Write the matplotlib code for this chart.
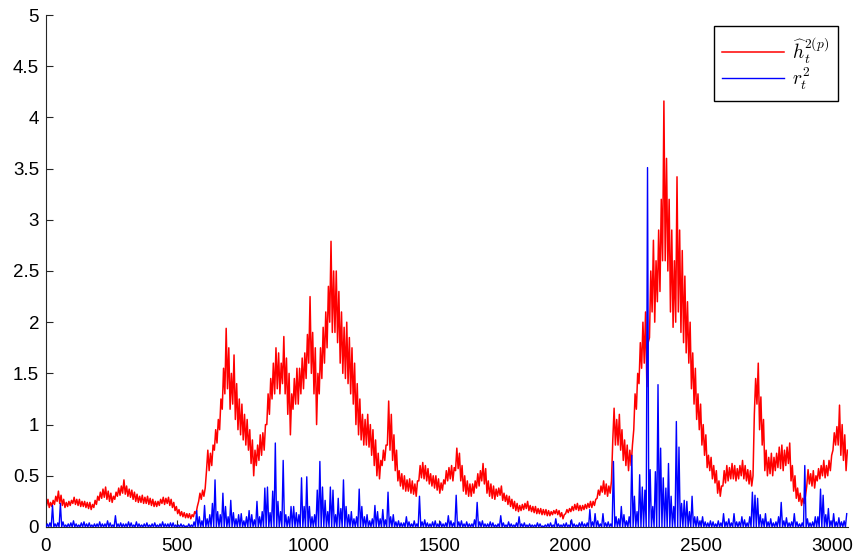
import numpy as np
import matplotlib
matplotlib.use("Agg")
import matplotlib.pyplot as plt

plt.rcParams['font.family'] = ['Liberation Sans', 'DejaVu Sans']
plt.rcParams['mathtext.fontset'] = 'cm'

# bin width (time steps) used when reading the picture
bin_width = 10

# red series: per-bin low / high envelope (10-step bins)
red_lo = [0.21, 0.19, 0.20, 0.22, 0.25, 0.23, 0.21, 0.19, 0.20, 0.21,
          0.23, 0.22, 0.21, 0.20, 0.20, 0.19, 0.18, 0.17, 0.19, 0.22,
          0.26, 0.28, 0.29, 0.27, 0.25, 0.24, 0.27, 0.30, 0.31, 0.33,
          0.32, 0.30, 0.29, 0.27, 0.25, 0.24, 0.24, 0.23, 0.23, 0.22,
          0.21, 0.20, 0.20, 0.21, 0.23, 0.22, 0.23, 0.21, 0.19, 0.16,
          0.13, 0.11, 0.10, 0.09, 0.09, 0.08, 0.10, 0.13, 0.25, 0.27,
          0.30, 0.55, 0.55, 0.60, 0.75, 0.82, 0.95, 1.15, 1.30, 1.35,
          1.15, 1.20, 1.05, 0.95, 0.90, 0.85, 0.80, 0.75, 0.62, 0.50,
          0.60, 0.65, 0.70, 0.75, 1.00, 1.10, 1.25, 1.30, 1.35, 1.30,
          1.40, 1.30, 1.10, 0.90, 1.15, 1.20, 1.20, 1.30, 1.35, 1.45,
          1.60, 1.50, 1.30, 1.00, 1.30, 1.45, 1.60, 1.75, 2.00, 1.90,
          1.90, 1.80, 1.60, 1.50, 1.45, 1.40, 1.30, 1.20, 1.00, 0.90,
          0.85, 0.80, 0.80, 0.78, 0.70, 0.60, 0.50, 0.47, 0.60, 0.65,
          0.80, 0.75, 0.65, 0.55, 0.45, 0.40, 0.37, 0.35, 0.35, 0.33,
          0.32, 0.30, 0.45, 0.48, 0.47, 0.45, 0.42, 0.40, 0.38, 0.36,
          0.33, 0.36, 0.42, 0.45, 0.47, 0.45, 0.55, 0.57, 0.45, 0.35,
          0.32, 0.30, 0.30, 0.33, 0.38, 0.40, 0.45, 0.42, 0.33, 0.30,
          0.28, 0.27, 0.30, 0.31, 0.26, 0.25, 0.22, 0.20, 0.18, 0.16,
          0.15, 0.16, 0.17, 0.18, 0.16, 0.15, 0.14, 0.13, 0.13, 0.12,
          0.12, 0.11, 0.11, 0.12, 0.13, 0.12, 0.10, 0.08, 0.13, 0.14,
          0.15, 0.16, 0.17, 0.16, 0.16, 0.17, 0.18, 0.19, 0.19, 0.21,
          0.28, 0.31, 0.34, 0.32, 0.30, 0.33, 0.85, 0.80, 0.80, 0.75,
          0.65, 0.60, 0.55, 0.60, 0.95, 1.15, 1.40, 1.55, 1.60, 1.37,
          1.85, 2.10, 2.00, 2.20, 2.30, 2.60, 2.60, 2.50, 2.10, 1.95,
          2.00, 2.10, 1.90, 1.80, 1.70, 1.60, 1.35, 1.20, 1.05, 0.95,
          0.80, 0.70, 0.58, 0.55, 0.47, 0.43, 0.33, 0.30, 0.40, 0.43,
          0.45, 0.47, 0.47, 0.45, 0.47, 0.50, 0.47, 0.45, 0.42, 0.40,
          1.10, 1.20, 0.95, 0.80, 0.55, 0.50, 0.52, 0.50, 0.55, 0.58,
          0.57, 0.55, 0.60, 0.62, 0.45, 0.35, 0.28, 0.25, 0.21, 0.23,
          0.40, 0.42, 0.40, 0.38, 0.45, 0.47, 0.50, 0.48, 0.50, 0.55,
          0.75, 0.80, 0.80, 0.70, 0.65, 0.55]
red_hi = [0.27, 0.24, 0.26, 0.30, 0.35, 0.31, 0.27, 0.24, 0.25, 0.26,
          0.29, 0.27, 0.27, 0.25, 0.25, 0.24, 0.24, 0.22, 0.26, 0.30,
          0.34, 0.37, 0.39, 0.35, 0.33, 0.30, 0.34, 0.38, 0.40, 0.46,
          0.40, 0.37, 0.36, 0.34, 0.32, 0.30, 0.31, 0.29, 0.30, 0.28,
          0.27, 0.25, 0.25, 0.27, 0.29, 0.28, 0.29, 0.27, 0.24, 0.20,
          0.17, 0.15, 0.14, 0.13, 0.13, 0.12, 0.15, 0.20, 0.33, 0.36,
          0.38, 0.75, 0.72, 0.80, 0.95, 1.05, 1.25, 1.55, 1.94, 1.75,
          1.50, 1.68, 1.40, 1.25, 1.20, 1.10, 1.05, 0.95, 0.85, 0.75,
          0.80, 0.90, 0.92, 1.00, 1.30, 1.45, 1.60, 1.75, 1.70, 1.60,
          1.86, 1.65, 1.50, 1.30, 1.45, 1.55, 1.55, 1.65, 1.70, 1.88,
          2.25, 1.90, 1.75, 1.50, 1.75, 1.95, 2.10, 2.35, 2.79, 2.50,
          2.50, 2.30, 2.10, 1.95, 2.00, 1.85, 1.75, 1.60, 1.40, 1.25,
          1.10, 1.05, 1.10, 1.00, 0.95, 0.85, 0.72, 0.65, 0.75, 0.80,
          1.23, 1.10, 0.90, 0.75, 0.55, 0.52, 0.50, 0.46, 0.47, 0.45,
          0.42, 0.45, 0.60, 0.63, 0.60, 0.57, 0.52, 0.50, 0.50, 0.47,
          0.43, 0.46, 0.55, 0.58, 0.60, 0.58, 0.77, 0.72, 0.60, 0.50,
          0.45, 0.42, 0.42, 0.45, 0.52, 0.55, 0.62, 0.57, 0.45, 0.42,
          0.40, 0.37, 0.38, 0.40, 0.33, 0.31, 0.30, 0.27, 0.25, 0.23,
          0.21, 0.22, 0.23, 0.25, 0.21, 0.20, 0.20, 0.18, 0.18, 0.17,
          0.17, 0.16, 0.15, 0.16, 0.17, 0.16, 0.14, 0.12, 0.17, 0.18,
          0.20, 0.22, 0.23, 0.21, 0.21, 0.22, 0.23, 0.25, 0.25, 0.27,
          0.36, 0.40, 0.45, 0.42, 0.40, 0.45, 1.16, 1.05, 1.10, 0.95,
          0.85, 0.80, 0.75, 0.80, 1.30, 1.50, 1.80, 2.00, 2.10, 1.80,
          2.50, 2.80, 2.60, 2.90, 3.20, 4.16, 3.60, 3.20, 2.90, 2.60,
          3.42, 2.90, 2.70, 2.45, 2.20, 2.00, 1.70, 1.55, 1.30, 1.20,
          1.00, 0.90, 0.70, 0.68, 0.60, 0.55, 0.45, 0.40, 0.55, 0.60,
          0.58, 0.62, 0.60, 0.57, 0.60, 0.65, 0.60, 0.56, 0.55, 0.50,
          1.45, 1.60, 1.27, 1.05, 0.75, 0.68, 0.72, 0.68, 0.72, 0.78,
          0.80, 0.75, 0.78, 0.82, 0.60, 0.50, 0.38, 0.33, 0.28, 0.30,
          0.56, 0.52, 0.55, 0.50, 0.57, 0.60, 0.65, 0.60, 0.65, 0.70,
          0.92, 0.98, 1.19, 1.00, 0.90, 0.75]

# blue series: per-bin spike height (10-step bins)
blue_peak = [0.03, 0.04, 0.21, 0.03, 0.04, 0.23, 0.05, 0.02, 0.03, 0.04,
             0.06, 0.03, 0.02, 0.04, 0.05, 0.03, 0.04, 0.02, 0.03, 0.03,
             0.05, 0.03, 0.03, 0.06, 0.04, 0.02, 0.11, 0.03, 0.04, 0.03,
             0.03, 0.05, 0.04, 0.02, 0.05, 0.03, 0.02, 0.03, 0.04, 0.02,
             0.03, 0.04, 0.02, 0.03, 0.05, 0.03, 0.03, 0.04, 0.04, 0.02,
             0.02, 0.03, 0.02, 0.01, 0.03, 0.02, 0.05, 0.16, 0.10, 0.06,
             0.21, 0.08, 0.12, 0.23, 0.46, 0.15, 0.12, 0.33, 0.20, 0.10,
             0.26, 0.14, 0.08, 0.12, 0.13, 0.06, 0.10, 0.16, 0.12, 0.07,
             0.25, 0.10, 0.15, 0.38, 0.39, 0.14, 0.35, 0.82, 0.25, 0.15,
             0.65, 0.12, 0.10, 0.20, 0.20, 0.14, 0.12, 0.48, 0.20, 0.49,
             0.20, 0.10, 0.12, 0.36, 0.64, 0.39, 0.26, 0.15, 0.39, 0.36,
             0.12, 0.28, 0.18, 0.46, 0.20, 0.12, 0.15, 0.08, 0.10, 0.37,
             0.20, 0.10, 0.12, 0.06, 0.08, 0.21, 0.15, 0.08, 0.17, 0.07,
             0.34, 0.10, 0.12, 0.05, 0.06, 0.04, 0.04, 0.10, 0.05, 0.03,
             0.06, 0.03, 0.30, 0.05, 0.07, 0.04, 0.03, 0.05, 0.06, 0.03,
             0.05, 0.03, 0.04, 0.11, 0.06, 0.04, 0.31, 0.05, 0.06, 0.03,
             0.05, 0.03, 0.03, 0.07, 0.24, 0.05, 0.06, 0.03, 0.03, 0.05,
             0.04, 0.02, 0.03, 0.11, 0.04, 0.02, 0.05, 0.03, 0.02, 0.04,
             0.10, 0.03, 0.04, 0.02, 0.03, 0.02, 0.02, 0.04, 0.03, 0.01,
             0.02, 0.03, 0.04, 0.02, 0.08, 0.03, 0.02, 0.03, 0.04, 0.02,
             0.07, 0.03, 0.02, 0.04, 0.05, 0.03, 0.04, 0.17, 0.05, 0.13,
             0.06, 0.03, 0.13, 0.04, 0.05, 0.03, 0.64, 0.10, 0.08, 0.20,
             0.12, 0.06, 0.10, 0.70, 0.30, 0.15, 0.51, 0.39, 0.36, 3.51,
             0.56, 0.20, 0.54, 1.39, 0.77, 0.48, 0.38, 0.62, 0.30, 0.20,
             1.03, 0.78, 0.23, 0.26, 0.25, 0.15, 0.30, 0.10, 0.10, 0.06,
             0.10, 0.05, 0.04, 0.06, 0.05, 0.03, 0.06, 0.04, 0.13, 0.05,
             0.08, 0.04, 0.13, 0.05, 0.05, 0.10, 0.07, 0.04, 0.10, 0.34,
             0.31, 0.28, 0.12, 0.08, 0.13, 0.05, 0.08, 0.04, 0.05, 0.10,
             0.24, 0.06, 0.09, 0.04, 0.05, 0.13, 0.05, 0.03, 0.04, 0.60,
             0.08, 0.04, 0.05, 0.10, 0.10, 0.37, 0.31, 0.12, 0.18, 0.06,
             0.13, 0.05, 0.09, 0.05, 0.06, 0.13]
blue_floor = [0.0] * len(blue_peak)

y_ticks = [0, 0.5, 1, 1.5, 2, 2.5, 3, 3.5, 4, 4.5, 5]
y_tick_labels = ['0', '0.5', '1', '1.5', '2', '2.5', '3', '3.5', '4', '4.5', '5']
x_ticks = [0, 500, 1000, 1500, 2000, 2500, 3000]

n_bins = len(red_lo)
n_steps = n_bins * bin_width

# interleave envelope values to draw the noisy band
red_vals = np.ravel(np.column_stack([red_lo, red_hi]))
red_t = np.arange(red_vals.size) * (bin_width / 2) + bin_width / 4
blue_vals = np.ravel(np.column_stack([blue_floor, blue_peak]))
blue_t = np.arange(blue_vals.size) * (bin_width / 2)

fig = plt.figure(figsize=(8.56, 5.58), dpi=100)
ax = fig.add_axes([0.0537, 0.0556, 0.937, 0.9175])

ax.plot(red_t, red_vals, color='#ff0000', lw=1.1, label=r'$\widehat{h}_t^{2(p)}$', zorder=2)
ax.plot(blue_t, blue_vals, color='#0000ff', lw=1.0, label=r'$r_t^2$', zorder=3)

ax.set_xlim(0, n_steps)
ax.set_ylim(0, 5)
ax.set_xticks(x_ticks)
ax.set_xticklabels([str(v) for v in x_ticks])
ax.set_yticks(y_ticks)
ax.set_yticklabels(y_tick_labels)

for s in ['top', 'right']:
    ax.spines[s].set_visible(False)
for s in ['left', 'bottom']:
    ax.spines[s].set_linewidth(0.8)
    ax.spines[s].set_color('#262626')

ax.tick_params(axis='both', direction='in', length=5, width=0.8, labelsize=13.5,
               colors='#262626', labelcolor='black')
ax.tick_params(axis='y', pad=5)
ax.tick_params(axis='x', pad=8)

leg = ax.legend(loc='upper right', bbox_to_anchor=(0.9875, 0.9785), borderaxespad=0,
                fontsize=14, handlelength=3.2, fancybox=False, framealpha=1,
                edgecolor='black', borderpad=0.45, labelspacing=0.0,
                handletextpad=0.4)
leg.get_frame().set_linewidth(1.0)

fig.savefig('out.png', dpi=100)
